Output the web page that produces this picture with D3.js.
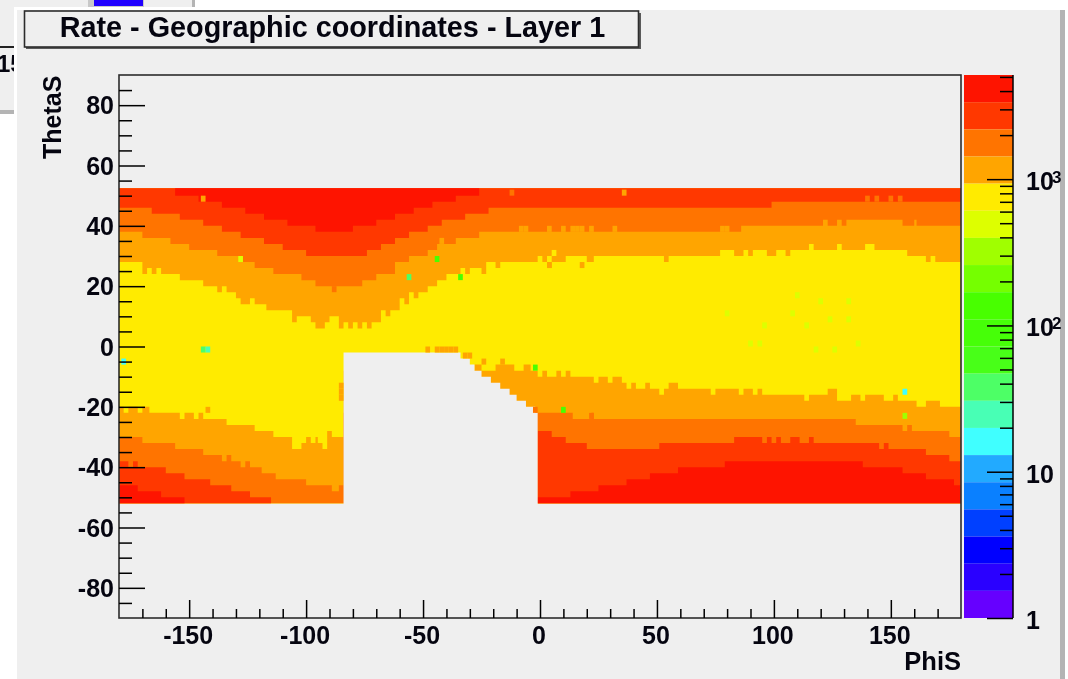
<!DOCTYPE html>
<html>
<head>
<meta charset="utf-8">
<script src="https://cdnjs.cloudflare.com/ajax/libs/d3/7.8.5/d3.min.js"></script>
<style>
	html, body { margin: 0; padding: 0; background: #ffffff; overflow: hidden; }
	svg { filter: blur(0.5px); }
	text { font-family: "Liberation Sans", Arial, sans-serif; font-weight: bold; fill: #050510; }
</style>
</head>
<body>
<div class="chart"></div>
<script>
	// palette of the rate scale, top band first
	var paletteColors = ["#fe1400", "#ff3800", "#ff7400", "#ffa500", "#ffeb00", "#ddff00", "#a0ff00", "#75ff00", "#48ff00", "#46ff08",
		"#48ff18", "#4dff66", "#48ffb5", "#40ffff", "#22aaff", "#0a80ff", "#0040ff", "#0000ff", "#2a00ff", "#6600ff"];

	// rate bands, read as [phi, theta] steps: upper half, band reaches down from the top edge
	var redUpper = [[-180,52.5],[-156,50],[-146,48],[-136,46],[-126,44],[-118,42],[-108,40],[-96,38],[-80,40],[-70,42],[-62,44],[-54,46],[-46,48],[-36,50],[-26,52.5],[180,52.5]];
	var redOrangeUpper = [[-180,46],[-166,44],[-154,42],[-144,40],[-136,38],[-128,36],[-118,34],[-110,32],[-100,30],[-74,32],[-68,34],[-62,36],[-56,38],[-48,40],[-42,42],[-32,44],[-22,46],[99,48],[180,48]];
	var orangeUpper = [[-180,38],[-170,36],[-158,34],[-150,32],[-138,30],[-128,28],[-122,26],[-114,24],[-102,22],[-96,20],[-76,22],[-70,24],[-62,28],[-56,30],[-48,32],[-44,34],[-36,36],[-26,38],
		[86,40],[121,42],[123,40],[127,42],[129,40],[131,42],[155,40],[160,42],[161,40],[180,40]];
	var amberUpper = [[-180,28],[-170,24],[-168,26],[-166,24],[-164,26],[-162,24],[-154,22],[-144,20],[-138,18],[-136,20],[-134,18],[-130,16],[-128,14],[-124,16],[-122,14],[-117,12],[-106,8],[-104,10],
		[-98,8],[-96,6],[-92,8],[-90,10],[-86,6],[-84,8],[-82,6],[-80,8],[-78,6],[-76,8],[-74,6],[-72,8],[-68,12],[-66,10],[-64,12],[-60,16],[-58,14],[-56,18],[-54,16],[-52,18],[-48,20],[-44,22],[-40,24],
		[-34,26],[-32,24],[-30,26],[-25,24],[-23,28],[-19,26],[-17,28],[3,26],[5,28],[11,30],[20,28],[23,30],[53,28],[55,30],[77,32],[83,30],[87,32],[89,30],[91,32],[97,30],[101,32],[105,30],[107,32],
		[115,34],[117,32],[127,34],[129,32],[139,34],[143,32],[157,30],[165,28],[167,30],[169,28],[180,28]];

	// lower half, band reaches up from the bottom edge
	var amberLower = [[-180,-20],[-178,-22],[-176,-20],[-172,-22],[-170,-20],[-167,-22],[-154,-24],[-152,-22],[-148,-24],[-146,-22],[-144,-24],[-134,-26],[-122,-28],[-114,-30],[-106,-34],[-102,-32],[-100,-30],
		[-98,-32],[-96,-30],[-95,-32],[-93,-34],[-91,-28],[-89,-30],[-84,-8],[-28,-6],[-25,-8],[-23,-8],[-21,-8],[-19,-6],[-11,-8],[-7,-6],[-4,-8],[-1,-10],[1,-8],[3,-10],[7,-8],[9,-10],[11,-8],[13,-10],
		[23,-12],[25,-10],[29,-12],[31,-10],[35,-12],[37,-14],[39,-12],[41,-14],[45,-12],[47,-14],[51,-16],[53,-14],[55,-12],[59,-14],[73,-16],[75,-14],[85,-16],[87,-14],[91,-16],[93,-14],[95,-16],
		[113,-18],[115,-16],[123,-14],[127,-18],[133,-16],[137,-18],[139,-16],[147,-18],[151,-16],[153,-18],[161,-20],[165,-18],[171,-20],[180,-20]];
	var orangeLower = [[-180,-30],[-170,-32],[-156,-34],[-144,-36],[-136,-38],[-134,-36],[-132,-38],[-128,-40],[-126,-38],[-124,-40],[-119,-42],[-113,-44],[-100,-46],[-89,-48],[-86,-46],[-84,-22],
		[14,-24],[22,-22],[23,-24],[135,-26],[155,-28],[157,-26],[159,-28],[175,-30],[180,-30]];
	var redOrangeLower = [[-180,-38],[-176,-40],[-174,-38],[-172,-40],[-160,-42],[-152,-44],[-141,-46],[-132,-48],[-124,-50],[-115,-52],[-1,-28],[5,-30],[11,-32],[20,-34],[51,-32],[83,-30],[95,-32],[97,-30],
		[99,-32],[101,-30],[103,-32],[107,-30],[111,-32],[115,-30],[117,-32],[145,-34],[147,-32],[149,-34],[165,-36],[175,-38],[180,-38]];
	var redLower = [[-180,-46],[-172,-48],[-162,-50],[-152,-52],[-1,-50],[13,-48],[25,-46],[37,-44],[47,-42],[59,-40],[79,-38],[138,-40],[155,-42],[165,-44],[177,-46],[180,-46]];

	// empty region of the detector: phi range with the top of the gap
	var gapPhi = [-84, -34, -30, -28, -25, -21, -17, -13, -10, -6, -2, -1];
	var gapTheta = [-2, -4, -6, -8, -10, -12, -14, -16, -18, -20, -22, -22];

	// single deviating bins: phi, theta, palette band
	var oddBins = [[-144,49,3],[-128,29,5],[-88,19,2],[-56,23,11],[-44,29,8],[-34,23,8],[-144,-1,11],[-142,-1,12],[-178,-5,13],[-142,-21,3],[-85,-13,3],[-85,-15,3],[-85,-17,3],
		[-12,51,2],[36,51,3],[-8,39,3],[-6,39,3],[4,39,3],[10,39,3],[14,39,3],[16,39,3],[18,39,3],[22,39,3],[32,39,3],[78,39,3],[80,39,3],[-42,35,3],
		[0,29,4],[4,29,4],[6,31,4],[4,27,3],[18,27,3],[140,49,2],[144,49,2],[150,49,2],[154,49,2],
		[-48,-1,3],[-44,-1,3],[-42,-1,3],[-40,-1,3],[-38,-1,3],[-36,-1,3],[-32,-3,3],[-30,-3,3],[-24,-5,3],[-16,-5,3],[-2,-7,8],[10,-21,8],[-2,-21,2],[22,-23,2],
		[156,-15,13],[156,-23,6],
		[110,17,5],[120,15,5],[132,15,5],[80,11,5],[108,11,5],[124,9,5],[132,9,5],[96,7,5],[114,7,5],[90,1,5],[94,1,5],[136,1,5],[118,-1,5],[126,-1,5]];

	// tick labels
	var phiMajor = [-150, -100, -50, 0, 50, 100, 150];
	var thetaMajor = [-80, -60, -40, -20, 0, 20, 40, 60, 80];
	var rateLabels = [{value: 1000, base: "10", exp: "3"}, {value: 100, base: "10", exp: "2"}, {value: 10, base: "10", exp: ""}, {value: 1, base: "1", exp: ""}];

	var svg = d3.select(".chart")
		.append("svg")
			.attr("width", 1068)
			.attr("height", 679)
			.style("display", "block");

	// window behind the canvas
	svg.append("rect").attr("x", 0).attr("y", 0).attr("width", 194).attr("height", 112).attr("fill", "#efefef");
	svg.append("rect").attr("x", 0).attr("y", 110).attr("width", 14).attr("height", 4).attr("fill", "#b4b4b4");
	svg.append("rect").attr("x", 192).attr("y", 0).attr("width", 3).attr("height", 8).attr("fill", "#b4b4b4");
	svg.append("rect").attr("x", 88).attr("y", 0).attr("width", 56).attr("height", 8).attr("fill", "#c8c8c8");
	svg.append("rect").attr("x", 94).attr("y", 0).attr("width", 49).attr("height", 6).attr("fill", "#2000ff");
	svg.append("rect").attr("x", 0).attr("y", 46).attr("width", 14).attr("height", 2).attr("fill", "#222222");
	svg.append("text").attr("x", -3).attr("y", 72).attr("font-size", "24px").text("15");

	// canvas
	svg.append("rect").attr("x", 14).attr("y", 7).attr("width", 1046).attr("height", 672).attr("fill", "#ffffff");
	svg.append("rect").attr("x", 17).attr("y", 10).attr("width", 1043).attr("height", 669).attr("fill", "#efefef");
	svg.append("rect").attr("x", 1060).attr("y", 10).attr("width", 5).attr("height", 669).attr("fill", "#b4b4b4");

	// scales
	var xScale = d3.scaleLinear().domain([-180, 180]).range([119, 961]);
	var yScale = d3.scaleLinear().domain([-90, 90]).range([618, 75]);
	var zMax = Math.pow(10, 3.712);
	var zScale = d3.scaleLog().domain([1, zMax]).range([618, 75]);
	var bandScale = d3.scaleBand().domain(d3.range(paletteColors.length)).range([75, 618]);

	var plot = svg.append("g");

	// histogram background of filled bins
	plot.append("rect")
		.attr("x", xScale(-180))
		.attr("y", yScale(52.5))
		.attr("width", xScale(180) - xScale(-180))
		.attr("height", yScale(-52) - yScale(52.5))
		.attr("fill", paletteColors[4]);

	function bandArea(edge) {
		return d3.area()
			.curve(d3.curveStepAfter)
			.x(function(d){ return xScale(d[0]); })
			.y0(yScale(edge))
			.y1(function(d){ return yScale(d[1]); });
	}

	var bands = [
		{ steps: amberUpper, edge: 52.5, color: 3 },
		{ steps: orangeUpper, edge: 52.5, color: 2 },
		{ steps: redOrangeUpper, edge: 52.5, color: 1 },
		{ steps: redUpper, edge: 52.5, color: 0 },
		{ steps: amberLower, edge: -52, color: 3 },
		{ steps: orangeLower, edge: -52, color: 2 },
		{ steps: redOrangeLower, edge: -52, color: 1 },
		{ steps: redLower, edge: -52, color: 0 }
	];

	plot.selectAll(".band")
		.data(bands)
		.enter()
		.append("path")
			.attr("class", "band")
			.attr("fill", function(d){ return paletteColors[d.color]; })
			.attr("d", function(d){ return bandArea(d.edge)(d.steps); });

	// detector gap, drawn over the bands
	var gapSteps = gapPhi.map(function(p, i){ return [p, gapTheta[i]]; });
	plot.append("path")
		.attr("fill", "#efefef")
		.attr("d", d3.area()
			.curve(d3.curveStepAfter)
			.x(function(d){ return xScale(d[0]); })
			.y0(yScale(-52.4))
			.y1(function(d){ return yScale(d[1]); })(gapSteps));

	// single bins
	plot.selectAll(".oddbin")
		.data(oddBins)
		.enter()
		.append("rect")
			.attr("class", "oddbin")
			.attr("x", function(d){ return xScale(d[0] - 1); })
			.attr("y", function(d){ return yScale(d[1] + 1); })
			.attr("width", xScale(2) - xScale(0))
			.attr("height", yScale(0) - yScale(2))
			.attr("fill", function(d){ return paletteColors[d[2]]; });

	// plot frame
	plot.append("rect")
		.attr("x", xScale(-180))
		.attr("y", yScale(90))
		.attr("width", xScale(180) - xScale(-180))
		.attr("height", yScale(-90) - yScale(90))
		.attr("fill", "none")
		.attr("stroke", "#2c2c2c")
		.attr("stroke-width", 1.6);

	// set axes
	function styleAxis(g) {
		g.select(".domain").remove();
		g.selectAll(".tick line").attr("stroke", "#000000").attr("stroke-width", 1.5);
	}

	var yMinor = d3.range(-85, 90, 5).filter(function(d){ return thetaMajor.indexOf(d) < 0; });
	var xMinor = d3.range(-170, 180, 10).filter(function(d){ return phiMajor.indexOf(d) < 0; });

	svg.append("g")
		.attr("transform", "translate(119,0)")
		.call(d3.axisRight(yScale).tickValues(yMinor).tickSize(13).tickFormat(""))
		.call(styleAxis);
	svg.append("g")
		.attr("transform", "translate(119,0)")
		.call(d3.axisRight(yScale).tickValues(thetaMajor).tickSize(26).tickFormat(""))
		.call(styleAxis);
	svg.append("g")
		.attr("transform", "translate(0,618)")
		.call(d3.axisTop(xScale).tickValues(xMinor).tickSize(9).tickFormat(""))
		.call(styleAxis);
	svg.append("g")
		.attr("transform", "translate(0,618)")
		.call(d3.axisTop(xScale).tickValues(phiMajor).tickSize(18).tickFormat(""))
		.call(styleAxis);

	svg.selectAll(".ylabel")
		.data(thetaMajor)
		.enter()
		.append("text")
			.attr("class", "ylabel")
			.attr("x", 114)
			.attr("y", function(d){ return yScale(d) + 9; })
			.attr("text-anchor", "end")
			.attr("font-size", "25px")
			.text(function(d){ return d; });

	svg.selectAll(".xlabel")
		.data(phiMajor)
		.enter()
		.append("text")
			.attr("class", "xlabel")
			.attr("x", function(d){ return xScale(d) - 1; })
			.attr("y", 644)
			.attr("text-anchor", "middle")
			.attr("font-size", "25px")
			.text(function(d){ return d; });

	svg.append("text")
		.attr("x", 961)
		.attr("y", 670)
		.attr("text-anchor", "end")
		.attr("font-size", "25.5px")
		.text("PhiS");

	svg.append("text")
		.attr("transform", "translate(61,159) rotate(-90)")
		.attr("font-size", "25px")
		.text("ThetaS");

	// colour scale
	svg.selectAll(".paletteband")
		.data(paletteColors)
		.enter()
		.append("rect")
			.attr("class", "paletteband")
			.attr("x", 964)
			.attr("y", function(d, i){ return bandScale(i); })
			.attr("width", 49)
			.attr("height", bandScale.bandwidth())
			.attr("fill", function(d){ return d; });

	var zMajor = rateLabels.map(function(d){ return d.value; });
	var zMinor = [];
	[1, 10, 100, 1000].forEach(function(dec){
		d3.range(2, 10).forEach(function(m){
			if (dec * m < zMax) zMinor.push(dec * m);
		});
	});

	svg.append("g")
		.attr("transform", "translate(1013,0)")
		.call(d3.axisLeft(zScale).tickValues(zMinor).tickSize(13).tickFormat(""))
		.call(styleAxis);
	svg.append("g")
		.attr("transform", "translate(1013,0)")
		.call(d3.axisLeft(zScale).tickValues(zMajor).tickSize(26).tickFormat(""))
		.call(styleAxis);
	svg.append("line")
		.attr("x1", 1013).attr("x2", 1013)
		.attr("y1", 75).attr("y2", 618)
		.attr("stroke", "#000000")
		.attr("stroke-width", 1.5);

	var rateText = svg.selectAll(".ratelabel")
		.data(rateLabels)
		.enter()
		.append("g")
			.attr("class", "ratelabel");
	rateText.append("text")
		.attr("x", 1026)
		.attr("y", function(d){ return zScale(d.value) + 11; })
		.attr("font-size", "25px")
		.text(function(d){ return d.base; });
	rateText.append("text")
		.attr("x", 1052)
		.attr("y", function(d){ return zScale(d.value) + 4; })
		.attr("font-size", "17px")
		.text(function(d){ return d.exp; });

	// title box
	svg.append("rect").attr("x", 26).attr("y", 13).attr("width", 615).attr("height", 36).attr("fill", "#5a5a5a");
	svg.append("rect")
		.attr("x", 24.5)
		.attr("y", 11)
		.attr("width", 614)
		.attr("height", 36)
		.attr("fill", "#efefef")
		.attr("stroke", "#2c2c2c")
		.attr("stroke-width", 1.6);
	svg.append("text")
		.attr("x", 332.5)
		.attr("y", 37)
		.attr("text-anchor", "middle")
		.attr("font-size", "28.8px")
		.text("Rate - Geographic coordinates - Layer 1");
</script>
</body>
</html>
